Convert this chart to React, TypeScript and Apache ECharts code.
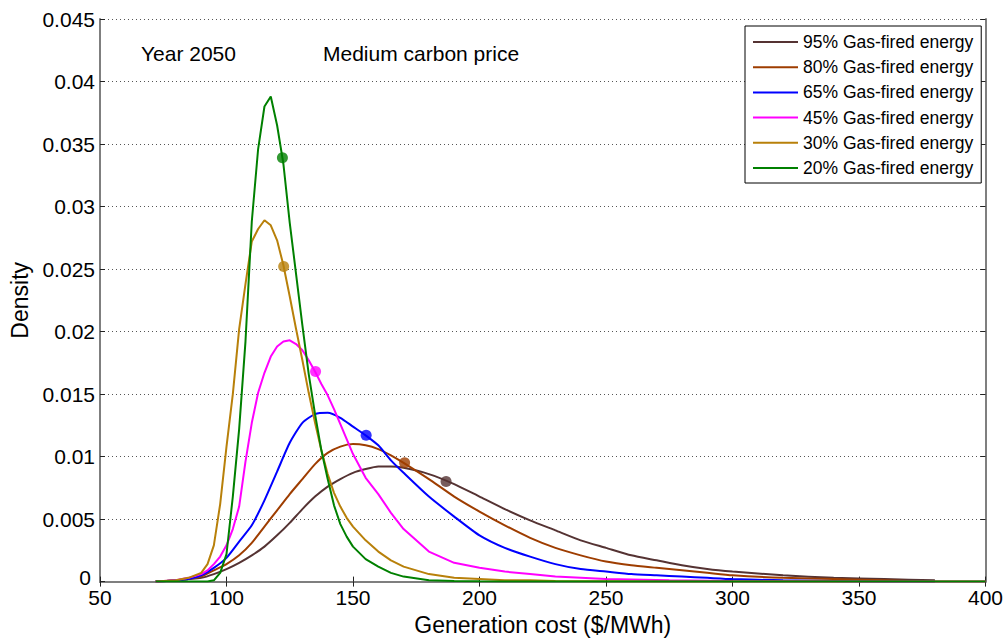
import React, { useEffect, useRef } from "react";
import * as echarts from "echarts";

// x grid for the narrow (peaked) curves
const fineX = [72, 80, 85, 90, 92.5, 95, 97.5, 100, 102.5, 105, 107.5, 110, 112.5, 115, 117.5, 120, 122.5, 125, 127.5, 130, 132.5, 135, 137.5, 140, 142.5, 145, 147.5, 150, 155, 160, 165, 170, 180, 190, 200, 210, 220, 230, 240, 250, 275, 300, 350, 400];
// x grid for the broad curves
const coarseX = [72, 80, 85, 90, 95, 100, 105, 110, 115, 120, 125, 130, 135, 140, 145, 150, 155, 160, 165, 170, 180, 190, 200, 210, 220, 230, 240, 250, 260, 270, 280, 290, 300, 320, 340, 360, 380];

const gas20 = [0, 0, 0, 0, 0, 0.0001, 0.0007, 0.0022, 0.0068, 0.0122, 0.0192, 0.0288, 0.0346, 0.038, 0.0388, 0.0365, 0.0334, 0.0287, 0.0246, 0.0205, 0.0166, 0.0134, 0.0105, 0.0082, 0.0061, 0.0046, 0.0036, 0.0028, 0.0018, 0.0012, 0.0007, 0.0004, 0.0001, 0.00005, 0.00002, 0, 0, 0, 0, 0, 0, 0, 0, 0];
const gas30 = [0, 0.0001, 0.0003, 0.0007, 0.0014, 0.0029, 0.0062, 0.0108, 0.015, 0.0202, 0.0238, 0.0272, 0.0282, 0.0289, 0.0285, 0.0273, 0.0253, 0.0228, 0.0202, 0.0177, 0.0151, 0.0127, 0.0105, 0.0086, 0.0071, 0.006, 0.0051, 0.0044, 0.0033, 0.0024, 0.0017, 0.0012, 0.0006, 0.0003, 0.0002, 0.0001, 0.0001, 0.00005, 0.00003, 0.00002, 0, 0, 0, 0];
const gas45 = [0, 0.0001, 0.0003, 0.0006, 0.0009, 0.0014, 0.002, 0.0029, 0.0042, 0.006, 0.0096, 0.0127, 0.0151, 0.0167, 0.018, 0.0188, 0.0192, 0.0193, 0.019, 0.0185, 0.0177, 0.0168, 0.0158, 0.0149, 0.0138, 0.0126, 0.0114, 0.0102, 0.0083, 0.007, 0.0055, 0.0042, 0.0024, 0.0015, 0.0011, 0.0008, 0.0006, 0.0004, 0.0003, 0.0002, 0.0001, 0.00005, 0, 0];
const gas65 = [0, 0.0001, 0.0002, 0.0005, 0.0011, 0.0019, 0.0032, 0.0045, 0.0065, 0.0088, 0.0111, 0.0127, 0.0134, 0.0135, 0.0131, 0.0124, 0.0117, 0.0109, 0.0097, 0.0087, 0.0068, 0.0052, 0.0037, 0.0027, 0.002, 0.0014, 0.001, 0.0008, 0.0006, 0.0005, 0.0004, 0.0003, 0.0002, 0.0001, 0.00005, 0, 0];
const gas80 = [0, 0.0001, 0.0002, 0.0004, 0.0009, 0.0014, 0.0021, 0.0031, 0.0044, 0.0057, 0.007, 0.0082, 0.0094, 0.0103, 0.0108, 0.011, 0.0109, 0.0106, 0.0101, 0.0095, 0.0082, 0.0068, 0.0056, 0.0045, 0.0035, 0.0027, 0.0021, 0.0016, 0.0013, 0.0011, 0.0009, 0.0007, 0.0005, 0.0003, 0.0002, 0.0001, 0];
const gas95 = [0, 0.0001, 0.0002, 0.0003, 0.0006, 0.001, 0.0015, 0.0021, 0.0028, 0.0037, 0.0047, 0.0058, 0.0068, 0.0076, 0.0082, 0.0087, 0.009, 0.0092, 0.0092, 0.0091, 0.0086, 0.0078, 0.0068, 0.0058, 0.0049, 0.0041, 0.0033, 0.0027, 0.0021, 0.0017, 0.0013, 0.001, 0.0008, 0.0005, 0.0003, 0.0002, 0.0001];

const seriesNames = ["95% Gas-fired energy", "80% Gas-fired energy", "65% Gas-fired energy", "45% Gas-fired energy", "30% Gas-fired energy", "20% Gas-fired energy"];
const meanX = [186.8, 170.4, 155.2, 135.2, 122.6, 122.1];
const meanY = [0.008, 0.0095, 0.0117, 0.0168, 0.0252, 0.0339];

const xTicks = { min: 50, max: 400, interval: 50 };
const yTicks = { min: 0, max: 0.045, interval: 0.005 };

const colors = ["#553333", "#9e3d00", "#0000ff", "#ff00ff", "#b8800a", "#008000"];
const FONT = "Liberation Sans, Arial, sans-serif";

export default function App() {
  const ref = useRef<HTMLDivElement>(null);
  useEffect(() => {
    document.body.style.margin = "0";
    const chart = echarts.init(ref.current!, null, { renderer: "svg" });
    const curves = [
      { x: coarseX, y: gas95, smooth: 0.2 },
      { x: coarseX, y: gas80, smooth: 0.2 },
      { x: coarseX, y: gas65, smooth: 0.2 },
      { x: fineX, y: gas45, smooth: false },
      { x: fineX, y: gas30, smooth: false },
      { x: fineX, y: gas20, smooth: false },
    ];
    const lineSeries = curves.map((c, i) => ({
      name: seriesNames[i],
      type: "line",
      xAxisIndex: 0,
      yAxisIndex: 0,
      data: c.x.map((xv, j) => [xv, c.y[j]]),
      smooth: c.smooth,
      symbol: "none",
      lineStyle: { color: colors[i], width: 2 },
      itemStyle: { color: colors[i] },
      z: 2 + i,
    }));
    const meanSeries = meanX.map((mx, i) => ({
      name: "mean " + seriesNames[i],
      type: "scatter",
      xAxisIndex: 0,
      yAxisIndex: 0,
      data: [[mx, meanY[i]]],
      symbol: "circle",
      symbolSize: 11,
      itemStyle: { color: colors[i] },
      z: 10,
    }));
    const axisLine = { show: true, lineStyle: { color: "#7f7f7f", width: 2 } };
    const tick = { show: true, inside: true, length: 5, lineStyle: { color: "#222", width: 1 } };
    chart.setOption({
      animation: false,
      backgroundColor: "#fff",
      grid: { left: 100, right: 19, top: 19, bottom: 48, containLabel: false },
      legend: {
        data: seriesNames,
        orient: "vertical",
        left: 745,
        top: 26,
        padding: [7, 8, 6, 8],
        icon: "rect",
        itemWidth: 45,
        itemHeight: 2,
        itemGap: 7.2,
        borderColor: "#000",
        borderWidth: 1,
        borderRadius: 0,
        backgroundColor: "#fff",
        textStyle: { fontSize: 17.5, fontFamily: FONT, color: "#000", lineHeight: 16 },
      },
      xAxis: [
        {
          type: "value",
          ...xTicks,
          name: "Generation cost ($/MWh)",
          nameLocation: "middle",
          nameGap: 26,
          nameTextStyle: { fontSize: 23, fontFamily: FONT, color: "#000" },
          axisLine,
          axisTick: tick,
          axisLabel: { fontSize: 21, lineHeight: 16, fontFamily: FONT, color: "#000", margin: 8 },
          splitLine: { show: false },
        },
        {
          type: "value",
          position: "top",
          ...xTicks,
          axisLine,
          axisTick: tick,
          axisLabel: { show: false },
          splitLine: { show: false },
        },
      ],
      yAxis: [
        {
          type: "value",
          ...yTicks,
          name: "Density",
          nameLocation: "middle",
          nameGap: 66,
          nameTextStyle: { fontSize: 23, fontFamily: FONT, color: "#000" },
          axisLine,
          axisTick: tick,
          axisLabel: {
            fontSize: 21,
            lineHeight: 16,
            fontFamily: FONT,
            color: "#000",
            margin: 5,
            formatter: (v: number) => (v === 0 ? "{z|0}" : String(parseFloat(v.toFixed(3)))),
            rich: { z: { fontSize: 21, lineHeight: 16, fontFamily: FONT, color: "#000", padding: [0, 4, 8, 0] } },
          },
          splitLine: { show: true, lineStyle: { color: "#555", width: 1, type: [1, 3] } },
        },
        {
          type: "value",
          position: "right",
          ...yTicks,
          axisLine,
          axisTick: tick,
          axisLabel: { show: false },
          splitLine: { show: false },
        },
      ],
      graphic: [
        {
          type: "text",
          left: 141,
          top: 43,
          style: { text: "Year 2050", fontSize: 21, fontFamily: FONT, fill: "#000" },
        },
        {
          type: "text",
          left: 323,
          top: 43,
          style: { text: "Medium carbon price", fontSize: 21, fontFamily: FONT, fill: "#000" },
        },
      ],
      series: [...lineSeries, ...meanSeries],
    });
    return () => chart.dispose();
  }, []);
  return <div ref={ref} style={{ width: 1006, height: 641 }} />;
}
